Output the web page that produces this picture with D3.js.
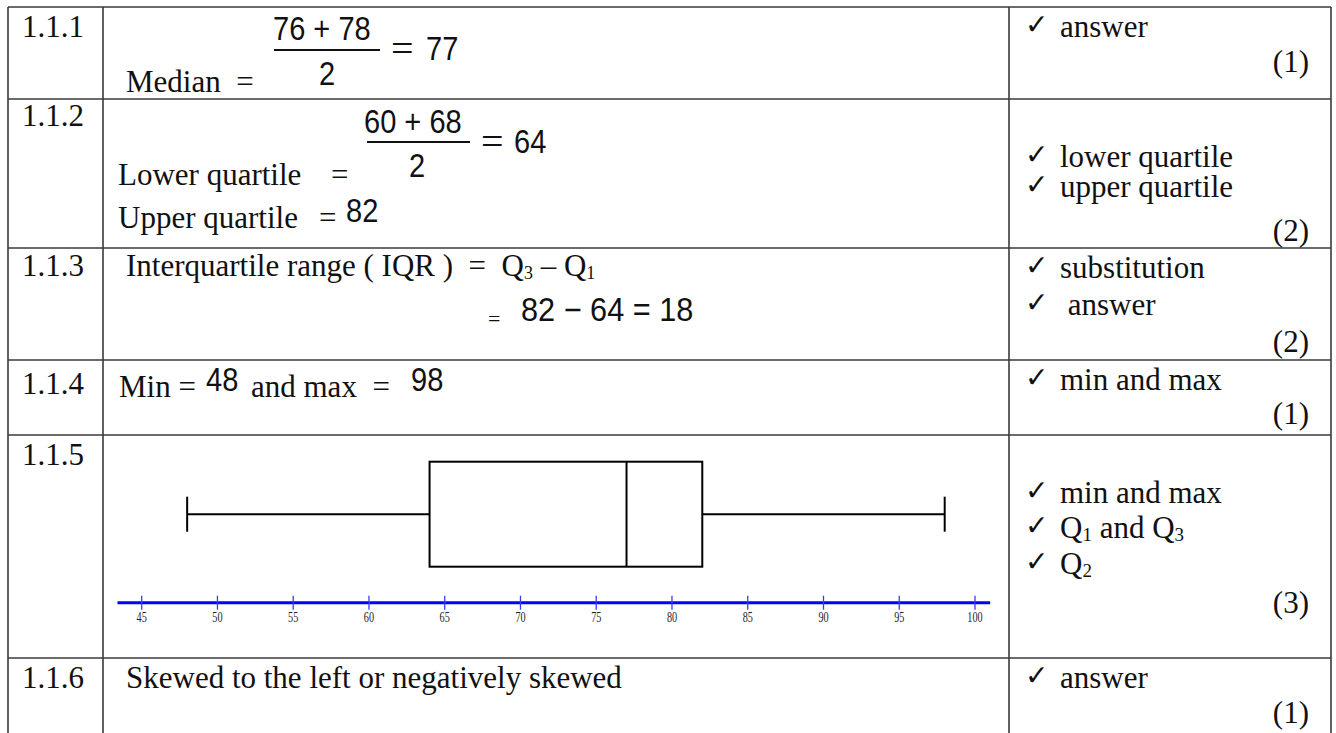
<!DOCTYPE html>
<html><head><meta charset="utf-8">
<script src="https://cdn.jsdelivr.net/npm/d3@7"></script>
<style>html,body{margin:0;padding:0;background:#fff;overflow:hidden} text{white-space:pre}</style>
</head><body>
<svg id="chart" width="1336" height="733"></svg>
<script>
// ---------- data ----------
const rowLabels = ["1.1.1", "1.1.2", "1.1.3", "1.1.4", "1.1.5", "1.1.6"];
const rowMarks = ["(1)", "(2)", "(2)", "(1)", "(3)", "(1)"];
const criteria = [
  ["answer"],
  ["lower quartile", "upper quartile"],
  ["substitution", " answer"],
  ["min and max"],
  ["min and max", "Q1 and Q3", "Q2"],
  ["answer"]
];
const medianPair = [76, 78];
const lowerPair = [60, 68];
const medianValue = [77];
const quartileValues = [64, 82];      // Q1, Q3
const iqrValue = [18];
const minMaxValues = [48, 98];
const fiveNumber = [48, 64, 77, 82, 98]; // min, Q1, median, Q3, max
const axisTicks = [45, 50, 55, 60, 65, 70, 75, 80, 85, 90, 95, 100];
const axisExtent = [43.4, 101];
const conclusion = ["Skewed to the left or negatively skewed"];

// ---------- layout ----------
const svg = d3.select("#chart");
const colX = [8, 103, 1009, 1331];
const rowY = [7, 99, 248, 360, 435, 658];
const bottomY = 733;
const SERIF = "'Liberation Serif','Times New Roman',serif";
const SANS = "'Liberation Sans',Arial,sans-serif";
const ink = "#111";

const grid = svg.append("g").attr("stroke", "#3a3a3a").attr("stroke-width", 1.6);
grid.selectAll("line.h").data(rowY).join("line").attr("class", "h")
  .attr("x1", colX[0]).attr("x2", colX[3]).attr("y1", d => d).attr("y2", d => d);
grid.selectAll("line.v").data(colX).join("line").attr("class", "v")
  .attr("x1", d => d).attr("x2", d => d).attr("y1", rowY[0]).attr("y2", bottomY);

function txt(x, y, s, o = {}) {
  return svg.append("text").attr("x", x).attr("y", y)
    .attr("font-family", o.family || SERIF)
    .attr("font-size", o.size || 31)
    .attr("fill", o.fill || ink)
    .attr("text-anchor", o.anchor || "start")
    .text(s);
}
// condensed maths numerals: regular sans squeezed horizontally
function math(x, y, s, sx = 0.88) {
  return svg.append("text")
    .attr("transform", `translate(${x},${y}) scale(${sx},1)`)
    .attr("font-family", SANS).attr("font-size", 33).attr("fill", ink)
    .text(s);
}
function withSubs(x, y, s, size, subSize) {
  const t = svg.append("text").attr("x", x).attr("y", y)
    .attr("font-family", SERIF).attr("font-size", size).attr("fill", ink);
  const parts = s.split(/(Q\d)/).filter(p => p.length);
  let pending = 0;
  parts.forEach(p => {
    const m = p.match(/^Q(\d)$/);
    if (m) {
      t.append("tspan").attr("dy", pending || null).text("Q");
      t.append("tspan").attr("font-size", subSize).attr("dy", 3).text(m[1]);
      pending = -3;
    } else {
      t.append("tspan").attr("dy", pending || null).text(p);
      pending = 0;
    }
  });
  return t;
}
function fracLine(x1, x2, y) {
  svg.append("line").attr("x1", x1).attr("x2", x2).attr("y1", y).attr("y2", y)
    .attr("stroke", ink).attr("stroke-width", 2);
}

// ---------- column 1: item numbers ----------
const labelBase = [37, 126, 276, 394, 465, 688];
rowLabels.forEach((l, i) => txt(22, labelBase[i], l));

// ---------- column 3: criteria and marks ----------
const critBase = [[37], [167, 197], [278, 315], [390], [503, 538, 574], [688]];
const markBase = [72, 241, 352, 424, 613, 723];
criteria.forEach((lines, i) => {
  lines.forEach((c, j) => {
    const y = critBase[i][j];
    txt(1025, y - 3, "\u2713", { family: "'DejaVu Sans',sans-serif", size: 28 });
    withSubs(1060, y, c, 31, 19);
  });
  txt(1309, markBase[i], rowMarks[i], { anchor: "end" });
});

// ---------- column 2: workings ----------
// 1.1.1
math(273, 40, medianPair.join(" + "));
fracLine(274, 380, 50);
math(319, 85, "2");
txt(391, 62, "=", { size: 40 });
math(426, 60, medianValue[0]);
txt(126, 92, "Median  =");

// 1.1.2
math(364, 133, lowerPair.join(" + "));
fracLine(367, 470, 142);
math(409, 177, "2");
txt(481, 155, "=", { size: 40 });
math(514, 153, quartileValues[0]);
txt(118, 185, "Lower quartile");
txt(331, 185, "=");
txt(118, 228, "Upper quartile");
txt(319, 228, "=");
math(346, 222, quartileValues[1]);

// 1.1.3
withSubs(126, 276, "Interquartile range ( IQR )  =  Q3 \u2013 Q1", 31, 18);
txt(488, 326, "=", { size: 22 });
math(521, 321, `${quartileValues[1]} \u2212 ${quartileValues[0]} = ${iqrValue[0]}`, 0.93);

// 1.1.4
txt(119, 397, "Min =");
math(206, 391, minMaxValues[0]);
txt(251, 397, "and max  =");
math(411, 391, minMaxValues[1]);

// 1.1.6
txt(126, 688, conclusion[0]);

// ---------- 1.1.5 box plot ----------
const x = d3.scaleLinear().domain([45, 100]).range([141.7, 975]);
const boxTop = 461.7, boxBottom = 566.7, midY = (boxTop + boxBottom) / 2, capH = 17.5;
const axisY = 602.7;
const [mn, q1, md, q3, mx] = fiveNumber;
const bp = svg.append("g").attr("stroke", "#000").attr("stroke-width", 2).attr("fill", "none");
bp.append("line").attr("x1", x(mn)).attr("x2", x(q1)).attr("y1", midY).attr("y2", midY);
bp.append("line").attr("x1", x(q3)).attr("x2", x(mx)).attr("y1", midY).attr("y2", midY);
bp.selectAll("line.cap").data([mn, mx]).join("line").attr("class", "cap")
  .attr("x1", d => x(d)).attr("x2", d => x(d)).attr("y1", midY - capH).attr("y2", midY + capH);
bp.append("rect").attr("x", x(q1)).attr("y", boxTop).attr("width", x(q3) - x(q1)).attr("height", boxBottom - boxTop);
bp.append("line").attr("x1", x(md)).attr("x2", x(md)).attr("y1", boxTop).attr("y2", boxBottom);

// number line
const ax = svg.append("g");
ax.append("line").attr("x1", x(axisExtent[0])).attr("x2", x(axisExtent[1]))
  .attr("y1", axisY).attr("y2", axisY).attr("stroke", "#0000ff").attr("stroke-width", 3);
ax.selectAll("line.tk").data(axisTicks).join("line").attr("class", "tk")
  .attr("x1", d => x(d)).attr("x2", d => x(d)).attr("y1", axisY - 7).attr("y2", axisY + 7)
  .attr("stroke", "#3a3aff").attr("stroke-width", 1.3);
ax.selectAll("text.tl").data(axisTicks).join("text").attr("class", "tl")
  .attr("transform", d => `translate(${x(d)},${axisY + 19}) scale(0.68,1)`)
  .attr("text-anchor", "middle").attr("font-family", SERIF).attr("font-size", 15)
  .attr("fill", "#222").text(d => d);
</script>
</body></html>
